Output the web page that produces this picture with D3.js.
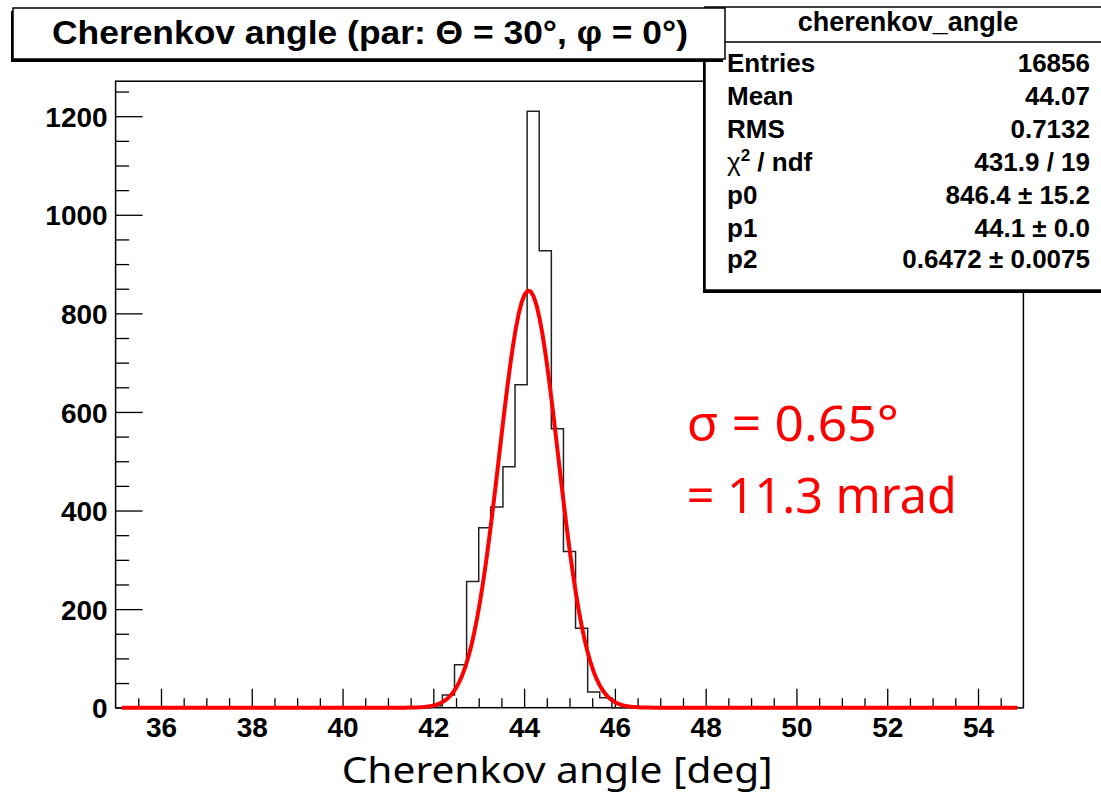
<!DOCTYPE html>
<html>
<head>
<meta charset="utf-8">
<script src="https://cdn.jsdelivr.net/npm/d3@7"></script>
<style>
  html, body { margin: 0; padding: 0; background: #fff; }
  svg { display: block; }
</style>
</head>
<body>
<svg id="chart" width="1101" height="793"></svg>
<script>
// ---------------- data ----------------
const titleText = "Cherenkov angle  (par: \u0398 = 30\u00b0, \u03c6 = 0\u00b0)";
const xAxisLabel = "Cherenkov angle [deg]";
const histRange = [35, 55];          // histogram axis range
const nBins = 75;
// bin contents (non-zero bins listed by bin index)
const binIndex  = [26, 27, 28, 29, 30, 31, 32, 33, 34, 35, 36, 37, 38, 39, 40];
const binCounts = [4, 26, 87, 256, 365, 407, 489, 655, 1210, 927, 566, 317, 161, 32, 20];
const yMax = 1271;
const xTicks = [36, 38, 40, 42, 44, 46, 48, 50, 52, 54];
const yTicks = [0, 200, 400, 600, 800, 1000, 1200];
// Gaussian fit parameters (from stats box)
const fitP0 = 846.4, fitP1 = 44.1, fitP2 = 0.6472;
const statsName = "cherenkov_angle";
const statsLabels = ["Entries", "Mean", "RMS", "\u03c7\u00b2 / ndf", "p0", "p1", "p2"];
const statsValues = ["16856", "44.07", "0.7132", "431.9 / 19", "846.4 \u00b1 15.2", "44.1 \u00b1 0.0", "0.6472 \u00b1 0.0075"];
const noteLines = ["\u03c3 = 0.65\u00b0", "= 11.3 mrad"];

// ---------------- layout ----------------
const svg = d3.select("#chart");
const L = 115.6, R = 1023.4, T = 81.2, B = 707.7;
const x = d3.scaleLinear().domain(histRange).range([L, R]);
const y = d3.scaleLinear().domain([0, yMax]).range([B, T]);
const boldFont = "'Liberation Sans', Arial, Helvetica, sans-serif";

// full bin contents
const counts = new Array(nBins).fill(0);
binIndex.forEach((k, i) => counts[k] = binCounts[i]);
const bw = (histRange[1] - histRange[0]) / nBins;

// frame background
svg.append("rect").attr("x", L).attr("y", T).attr("width", R - L).attr("height", B - T)
  .attr("fill", "#fff");

// ---- axes ----
const minorX = d3.range(35.5, 55, 0.5).filter(v => Math.abs(v - Math.round(v / 2) * 2) > 1e-6);
const minorY = d3.range(50, yMax, 50).filter(v => v % 200 !== 0);

const gx = svg.append("g").attr("transform", `translate(0,${B})`);
gx.call(d3.axisBottom(x).tickValues(xTicks).tickSize(-19).tickPadding(8).tickFormat(d3.format("d")));
const gxm = svg.append("g").attr("transform", `translate(0,${B})`);
gxm.call(d3.axisBottom(x).tickValues(minorX).tickSize(-9.5).tickFormat(""));

const gy = svg.append("g").attr("transform", `translate(${L},0)`);
gy.call(d3.axisLeft(y).tickValues(yTicks).tickSize(-27).tickPadding(8).tickFormat(d3.format("d")));
const gym = svg.append("g").attr("transform", `translate(${L},0)`);
gym.call(d3.axisLeft(y).tickValues(minorY).tickSize(-13.5).tickFormat(""));

[gx, gxm, gy, gym].forEach(g => {
  g.select(".domain").remove();
  g.selectAll(".tick line").attr("stroke", "#000").attr("stroke-width", 1.3);
});
gxm.selectAll(".tick text").remove();
gym.selectAll(".tick text").remove();
gx.selectAll(".tick text").attr("font-family", boldFont).attr("font-weight", "bold")
  .attr("font-size", 28).attr("fill", "#000").attr("y", 29).attr("dy", 0);
gy.selectAll(".tick text").attr("font-family", boldFont).attr("font-weight", "bold")
  .attr("font-size", 28).attr("fill", "#000").attr("x", -8).attr("dy", "0.36em");

// frame border
svg.append("rect").attr("x", L).attr("y", T).attr("width", R - L).attr("height", B - T)
  .attr("fill", "none").attr("stroke", "#000").attr("stroke-width", 1.5);

// ---- histogram outline ----
const pts = [];
counts.forEach((c, k) => {
  const lo = histRange[0] + k * bw, hi = lo + bw;
  pts.push([lo, c]); pts.push([hi, c]);
});
svg.append("path")
  .attr("d", d3.line().x(d => x(d[0])).y(d => y(d[1]))(pts))
  .attr("fill", "none").attr("stroke", "#222").attr("stroke-width", 1.5);

// ---- gaussian fit curve ----
const fitLo = histRange[0] + bw / 2, fitHi = histRange[1] - bw / 2;
const nFit = 300;
const fitPts = d3.range(nFit + 1).map(i => {
  const xv = fitLo + (fitHi - fitLo) * i / nFit;
  return [xv, fitP0 * Math.exp(-0.5 * Math.pow((xv - fitP1) / fitP2, 2))];
});
svg.append("path")
  .attr("d", d3.line().x(d => x(d[0])).y(d => y(d[1]))(fitPts))
  .attr("fill", "none").attr("stroke", "#ff0000").attr("stroke-width", 4)
  .attr("stroke-linejoin", "round");

// ---- stats box ----
const sb = { x: 705, y: 7, w: 410, h: 283 };
svg.append("rect").attr("x", sb.x - 2).attr("y", sb.y + 3).attr("width", sb.w).attr("height", sb.h)
  .attr("fill", "#000");
svg.append("rect").attr("x", sb.x).attr("y", sb.y).attr("width", sb.w).attr("height", sb.h)
  .attr("fill", "#fff").attr("stroke", "#000").attr("stroke-width", 1.5);
svg.append("line").attr("x1", sb.x).attr("x2", sb.x + sb.w).attr("y1", 42).attr("y2", 42)
  .attr("stroke", "#000").attr("stroke-width", 1.5);
svg.append("text").attr("x", 908).attr("y", 31).attr("text-anchor", "middle")
  .attr("font-family", boldFont).attr("font-weight", "bold").attr("font-size", 27)
  .text(statsName);
const rowBase = [71.7, 105, 138.3, 170.5, 203.5, 236.7, 268.3];
statsLabels.forEach((lab, i) => {
  const t = svg.append("text").attr("x", 727).attr("y", rowBase[i])
    .attr("font-family", boldFont).attr("font-weight", "bold").attr("font-size", 26);
  if (lab.indexOf("\u00b2") >= 0) {
    t.append("tspan").attr("font-weight", "normal").text("\u03c7");
    t.append("tspan").attr("dy", -10).attr("font-size", 17).text("2");
    t.append("tspan").attr("dy", 10).text(" / ndf");
  } else {
    t.text(lab);
  }
  svg.append("text").attr("x", 1090).attr("y", rowBase[i]).attr("text-anchor", "end")
    .attr("font-family", boldFont).attr("font-weight", "bold").attr("font-size", 26)
    .text(statsValues[i]);
});

// ---- title box ----
const tb = { x: 13, y: 8, w: 712, h: 51 };
svg.append("rect").attr("x", tb.x - 2).attr("y", tb.y + 3).attr("width", tb.w).attr("height", tb.h)
  .attr("fill", "#000");
svg.append("rect").attr("x", tb.x).attr("y", tb.y).attr("width", tb.w).attr("height", tb.h)
  .attr("fill", "#fff").attr("stroke", "#000").attr("stroke-width", 1.5);
svg.append("text").attr("x", 52).attr("y", 44)
  .attr("font-family", boldFont).attr("font-weight", "bold").attr("font-size", 34)
  .attr("textLength", 636).attr("lengthAdjust", "spacingAndGlyphs")
  .text(titleText);

// ---- x axis label ----
svg.append("text").attr("x", 341.7).attr("y", 783)
  .attr("font-family", "'Noto Sans', 'DejaVu Sans', sans-serif").attr("font-size", 37)
  .attr("textLength", 431).attr("lengthAdjust", "spacingAndGlyphs")
  .text(xAxisLabel);

// ---- annotation ----
const noteBase = [440.7, 513.3];
const noteLen = [212, 270];
noteLines.forEach((s, i) => {
  svg.append("text").attr("x", 686.7).attr("y", noteBase[i])
    .attr("font-family", "'Noto Sans', 'DejaVu Sans', sans-serif").attr("font-size", 50)
    .attr("fill", "#ff0000")
    .attr("textLength", noteLen[i]).attr("lengthAdjust", "spacingAndGlyphs")
    .text(s);
});
</script>
</body>
</html>
